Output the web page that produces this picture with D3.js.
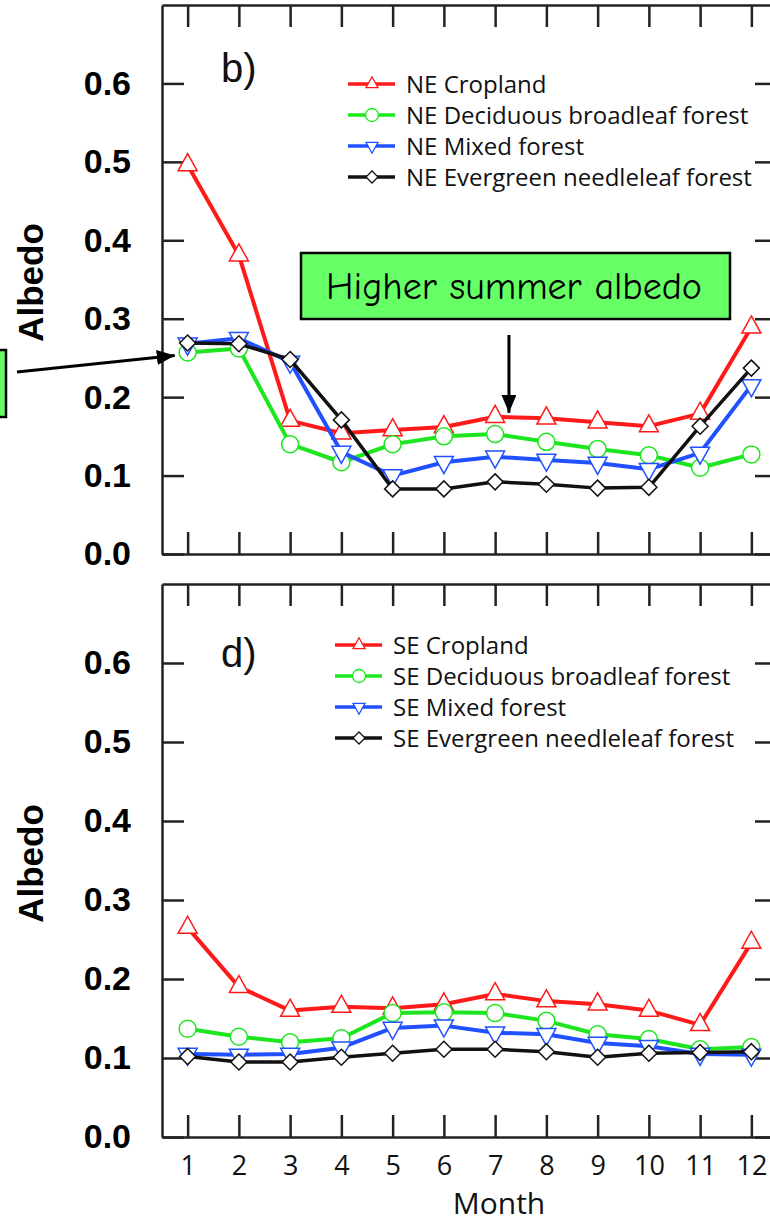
<!DOCTYPE html>
<html lang="en">
<head>
  <meta charset="UTF-8">
  <title>Monthly albedo, NE and SE</title>
  <script src="https://d3js.org/d3.v7.min.js"></script>
  <style>
    body { margin: 0; background: #fff; }
    svg { display: block; }
    .y-axis text { font-family: "Liberation Sans", Arial, sans-serif; font-weight: bold; font-size: 34px; fill: #000; }
    .x-axis text { font-family: "Open Sans", sans-serif; font-size: 27px; fill: #111; }
    .legend text { font-family: "Open Sans", sans-serif; font-size: 24px; fill: #111; }
  </style>
</head>
<body>
  <svg width="770" height="1222"></svg>

  <script>
    const months = [1, 2, 3, 4, 5, 6, 7, 8, 9, 10, 11, 12];
    const yTicks = [0, 0.1, 0.2, 0.3, 0.4, 0.5, 0.6];

    // panel b) north-east
    const neCropland  = [0.496, 0.381, 0.170, 0.154, 0.158, 0.162, 0.175, 0.173, 0.168, 0.163, 0.179, 0.289];
    const neDeciduous = [0.257, 0.262, 0.140, 0.117, 0.140, 0.150, 0.153, 0.143, 0.134, 0.126, 0.110, 0.127];
    const neMixed     = [0.268, 0.275, 0.245, 0.130, 0.100, 0.117, 0.124, 0.120, 0.116, 0.108, 0.129, 0.215];
    const neEvergreen = [0.269, 0.268, 0.248, 0.171, 0.083, 0.083, 0.092, 0.089, 0.084, 0.085, 0.163, 0.237];

    // panel d) south-east
    const seCropland  = [0.265, 0.190, 0.160, 0.165, 0.163, 0.168, 0.181, 0.172, 0.168, 0.160, 0.142, 0.246];
    const seDeciduous = [0.137, 0.127, 0.120, 0.125, 0.157, 0.158, 0.157, 0.147, 0.130, 0.124, 0.111, 0.114];
    const seMixed     = [0.105, 0.104, 0.105, 0.113, 0.138, 0.141, 0.132, 0.130, 0.119, 0.115, 0.105, 0.104];
    const seEvergreen = [0.102, 0.095, 0.095, 0.101, 0.106, 0.111, 0.111, 0.108, 0.101, 0.106, 0.107, 0.108];

    const landTypes = ["Cropland", "Deciduous broadleaf forest", "Mixed forest", "Evergreen needleleaf forest"];
    const colors = ["#ff1a1a", "#1ee61e", "#2050ff", "#111111"];
    const shapes = ["up", "circle", "down", "diamond"];

    const svg = d3.select("svg");

    // marker path around 0,0 with half width r
    function marker(shape, r) {
      if (shape === "circle") return d3.arc()({innerRadius: 0, outerRadius: r, startAngle: 0, endAngle: 2 * Math.PI});
      if (shape === "up") { const h = r * 1.8; return `M0,${-h * 2 / 3}L${r},${h / 3}L${-r},${h / 3}Z`; }
      if (shape === "down") { const h = r * 1.8; return `M0,${h * 2 / 3}L${r},${-h / 3}L${-r},${-h / 3}Z`; }
      return `M0,${-r}L${r},0L0,${r}L${-r},0Z`;
    }

    function drawPanel(opt) {
      const x = d3.scaleLinear().domain([0.5, 12.5]).range([162, 777]);
      const y = d3.scaleLinear().domain([0, 0.7]).range([opt.bottom, opt.top]);
      const g = svg.append("g");

      const axisStyle = sel => {
        sel.selectAll("path.domain").attr("stroke", "#222").attr("stroke-width", 2.5);
        sel.selectAll(".tick line").attr("stroke", "#222").attr("stroke-width", 2.5);
      };

      g.append("g").attr("class", "x-axis")
        .attr("transform", `translate(0,${opt.bottom})`)
        .call(d3.axisBottom(x).tickValues(months).tickSize(-22).tickSizeOuter(0).tickPadding(19)
          .tickFormat(opt.showMonths ? d3.format("d") : ""))
        .call(axisStyle);
      g.append("g").attr("class", "x-axis")
        .attr("transform", `translate(0,${opt.top})`)
        .call(d3.axisTop(x).tickValues(months).tickSize(-22).tickSizeOuter(0).tickFormat(""))
        .call(axisStyle);
      g.append("g").attr("class", "y-axis")
        .attr("transform", "translate(162,0)")
        .call(d3.axisLeft(y).tickValues(yTicks).tickSize(-22).tickSizeOuter(0).tickPadding(31).tickFormat(d3.format(".1f")))
        .call(axisStyle);
      g.append("g").attr("class", "y-axis")
        .attr("transform", "translate(777,0)")
        .call(d3.axisRight(y).tickValues(yTicks).tickSize(-22).tickSizeOuter(0).tickFormat(""))
        .call(axisStyle);

      g.append("text")
        .attr("transform", `translate(43,${(opt.top + opt.bottom) / 2 + 3}) rotate(-90)`)
        .attr("text-anchor", "middle")
        .style("font-family", "'Liberation Sans', Arial, sans-serif")
        .style("font-weight", "bold").style("font-size", "35px")
        .text("Albedo");

      g.append("text")
        .attr("x", 221).attr("y", opt.top + opt.labelDy)
        .style("font-family", "'Liberation Sans', Arial, sans-serif")
        .style("font-size", "40px").attr("fill", "#111")
        .text(opt.label);

      const line = d3.line().x((d, i) => x(months[i])).y(d => y(d));
      opt.series.forEach((vals, k) => {
        g.append("path").datum(vals)
          .attr("d", line)
          .attr("fill", "none")
          .attr("stroke", colors[k])
          .attr("stroke-width", k === 3 ? 3.5 : 4)
          .attr("stroke-linejoin", "round");
        g.selectAll(null).data(vals).join("path")
          .attr("transform", (d, i) => `translate(${x(months[i])},${y(d)})`)
          .attr("d", marker(shapes[k], shapes[k] === "diamond" ? 8 : (shapes[k] === "circle" ? 8.5 : 9.5)))
          .attr("fill", "#fff")
          .attr("stroke", colors[k])
          .attr("stroke-width", 1.5);
      });

      const legend = g.append("g").attr("class", "legend");
      landTypes.forEach((t, k) => {
        const row = legend.append("g").attr("transform", `translate(${opt.legendX},${opt.legendY + k * 31})`);
        row.append("line").attr("x1", 0).attr("x2", 47)
          .attr("stroke", colors[k]).attr("stroke-width", 3.5);
        row.append("path").attr("transform", "translate(24,0)")
          .attr("d", marker(shapes[k], shapes[k] === "circle" ? 6.5 : 6))
          .attr("fill", "#fff").attr("stroke", colors[k]).attr("stroke-width", 1.3);
        row.append("text").attr("x", 58).attr("y", 9).text(`${opt.region} ${t}`);
      });

      return {x, y};
    }

    const panelNE = drawPanel({
      top: 5, bottom: 554, label: "b)", labelDy: 77, region: "NE",
      series: [neCropland, neDeciduous, neMixed, neEvergreen],
      legendX: 348, legendY: 84, showMonths: false
    });

    drawPanel({
      top: 584, bottom: 1137, label: "d)", labelDy: 83, region: "SE",
      series: [seCropland, seDeciduous, seMixed, seEvergreen],
      legendX: 335, legendY: 645, showMonths: true
    });

    svg.append("text")
      .attr("x", 499).attr("y", 1214)
      .attr("text-anchor", "middle")
      .style("font-family", "'Open Sans', sans-serif").style("font-size", "30px")
      .attr("fill", "#111")
      .text("Month");

    // annotations
    const defs = svg.append("defs");
    defs.append("marker")
      .attr("id", "head")
      .attr("viewBox", "0 0 12 10")
      .attr("refX", 12).attr("refY", 5)
      .attr("markerWidth", 6).attr("markerHeight", 5)
      .attr("markerUnits", "strokeWidth")
      .attr("orient", "auto")
      .append("path").attr("d", "M0,0L12,5L0,10Z").attr("fill", "#000");

    svg.append("rect")
      .attr("x", 301).attr("y", 253).attr("width", 429).attr("height", 66)
      .attr("fill", "#66ff66").attr("stroke", "#000").attr("stroke-width", 2.5);
    svg.append("text")
      .attr("x", 514).attr("y", 299)
      .attr("text-anchor", "middle")
      .style("font-family", "'Comic Sans MS', 'Comic Neue', cursive, 'Noto Sans', sans-serif")
      .style("font-size", "38px")
      .text("Higher summer albedo");

    svg.append("line")
      .attr("x1", panelNE.x(7.27)).attr("y1", 335)
      .attr("x2", panelNE.x(7.27)).attr("y2", panelNE.y(0.180))
      .attr("stroke", "#000").attr("stroke-width", 3)
      .attr("marker-end", "url(#head)");

    svg.append("rect")
      .attr("x", -10).attr("y", 350).attr("width", 16).attr("height", 67)
      .attr("fill", "#66ff66").attr("stroke", "#000").attr("stroke-width", 2.5);
    svg.append("line")
      .attr("x1", 17).attr("y1", 372)
      .attr("x2", panelNE.x(0.75)).attr("y2", panelNE.y(0.253))
      .attr("stroke", "#000").attr("stroke-width", 3)
      .attr("marker-end", "url(#head)");
  </script>
</body>
</html>
